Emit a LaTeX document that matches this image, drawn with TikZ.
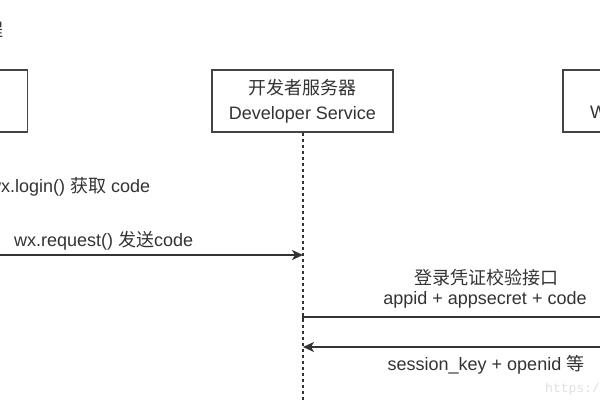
\documentclass[tikz,border=0pt]{standalone}
\usepackage{fontspec}
\setmainfont{Liberation Sans}
\newfontfamily\cjk{Noto Sans CJK SC}
\newfontfamily\wmfont{Liberation Mono}
\usetikzlibrary{arrows.meta,calc}
\definecolor{ink}{HTML}{333333}
\definecolor{boxline}{HTML}{444444}
\tikzset{
  party/.style={draw=boxline, line width=1.6pt, fill=white, minimum width=181pt, minimum height=62pt, inner sep=0pt, text=ink, font=\fontsize{18}{25}\selectfont, align=center},
  lifeline/.style={draw=ink, line width=1.1pt, dash pattern=on 3pt off 3pt},
  msg/.style={draw=ink, line width=1.6pt},
  msgtip/.style={-{Stealth[length=11pt,width=10pt,inset=3pt]}},
  lbl/.style={text=ink, font=\fontsize{18}{22}\selectfont, inner sep=0pt}
}
\begin{document}
\begin{tikzpicture}[x=1pt,y=-1pt]
\useasboundingbox (0,0) rectangle (600,400);
\clip (0,0) rectangle (600,400);
\fill[white] (0,0) rectangle (600,400);
% partial title
\node[lbl, anchor=east] (title) at (4,30) {\cjk 程};
% boxes
\node[party] (client) at (-63,101) {};
\node[party] (dev) at (302.5,101) {{\cjk 开发者服务器}\\Developer Service};
\node[party] (wx) at (653.5,101) {};
\node[lbl, anchor=west] (wxtxt) at (590,112) {W};
% lifeline
\coordinate (devend) at (303,400);
\draw[lifeline] (dev.south -| devend) -- (devend);
% messages
\coordinate (a1) at (0,255);
\coordinate (a2) at (303,255);
\draw[msg, msgtip] (a1) -- (a2);
\coordinate (b1) at (303,317);
\coordinate (b2) at (600,317);
\draw[msg] ($(b1)+(0,4)$) -- (b1) -- (b2);
\coordinate (c1) at (600,347);
\coordinate (c2) at (303,347);
\draw[msg, msgtip] (c1) -- (c2);
% labels
\node[lbl, anchor=west] (l1) at (-12,187) {wx.login() {\cjk 获取} code};
\node[lbl, anchor=west] (l2) at (14,241) {wx.request() {\cjk 发送}code};
\node[lbl] (l3) at (486,278) {\cjk 登录凭证校验接口};
\node[lbl] (l4) at (485,300) {appid + appsecret + code};
\node[lbl] (l5) at (486,365) {session\_key + openid {\cjk 等}};
\node[text=black!12, font=\wmfont\fontsize{13}{13}\selectfont, anchor=west, inner sep=0pt] (wm) at (545,389) {https://b};
\end{tikzpicture}
\end{document}
